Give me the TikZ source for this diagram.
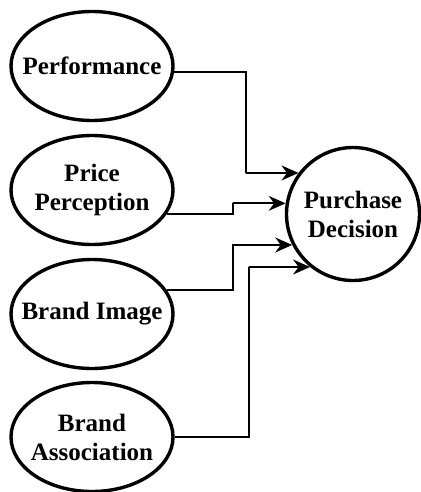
\documentclass[tikz,border=0pt]{standalone}
\usepackage{fontspec}
\setmainfont{Liberation Serif}
\usetikzlibrary{arrows.meta,shapes.geometric}

\begin{document}
\begin{tikzpicture}[x=0.5pt,y=-0.5pt,
    factor/.style={draw,ellipse,line width=1.7pt,minimum width=81pt,minimum height=54.5pt,
        inner xsep=-15pt,inner ysep=0pt,align=center,font=\fontsize{12.5}{14.5}\selectfont\bfseries},
    result/.style={draw,circle,line width=1.7pt,minimum size=66.5pt,
        inner sep=0pt,align=center,font=\fontsize{12.5}{14.5}\selectfont\bfseries},
    conn/.style={line width=0.9pt,-{Stealth[length=8.5pt,width=7.5pt]}}]
    \useasboundingbox (0,0) rectangle (421,492);

    \node[factor] (perf) at (92,66) {Performance};
    \node[factor] (price) at (92,190) {Price\\Perception};
    \node[factor] (image) at (92,314) {Brand Image};
    \node[factor] (assoc) at (92,437) {Brand\\Association};

    \node[result] (pd) at (353,214) {Purchase\\Decision};

    % bends of the connectors
    \coordinate (k1) at (246,173);
    \coordinate (k2) at (233,203);
    \coordinate (k3) at (233,245);
    \coordinate (k4) at (249,267);

    \draw[conn] (perf.-4) -| (k1) |- (pd.143);
    \draw[conn] (price.-18) -| (k2) |- (pd.171);
    \draw[conn] (image.18) -| (k3) |- (pd.207);
    \draw[conn] (assoc.east) -| (k4) |- (pd.231);
\end{tikzpicture}
\end{document}
